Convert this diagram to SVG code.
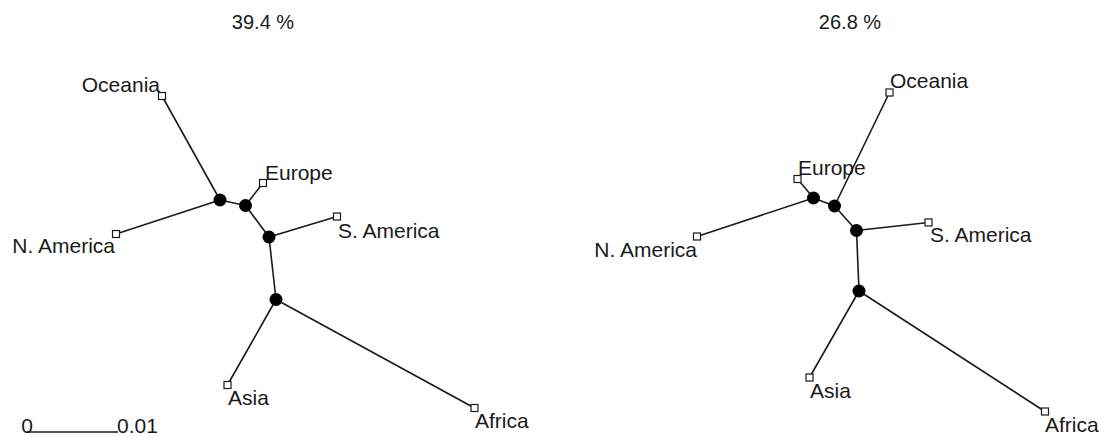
<svg xmlns="http://www.w3.org/2000/svg" width="1101" height="437" viewBox="0 0 1101 437">
<style>
text{font-family:"Liberation Sans",Arial,sans-serif;font-size:21px;fill:#1a1a1a}
text.title{font-size:20px}
.e{stroke:#1a1a1a;stroke-width:1.6;fill:none}
.tip{fill:#fff;stroke:#1a1a1a;stroke-width:1.2}
.int{fill:#000}
</style>
<rect width="1101" height="437" fill="#fff"/>
<text class="title" x="263" y="29" text-anchor="middle">39.4 %</text>
<text class="title" x="850" y="29" text-anchor="middle">26.8 %</text>
<g id="connectors">
<g id="edges-left">
<line class="e" x1="220" y1="200" x2="162" y2="96"/>
<line class="e" x1="220" y1="200" x2="116" y2="234"/>
<line class="e" x1="220" y1="200" x2="245.5" y2="205.5"/>
<line class="e" x1="245.5" y1="205.5" x2="263" y2="183"/>
<line class="e" x1="245.5" y1="205.5" x2="269" y2="237"/>
<line class="e" x1="269" y1="237" x2="337" y2="216.5"/>
<line class="e" x1="269" y1="237" x2="276" y2="299.5"/>
<line class="e" x1="276" y1="299.5" x2="227.5" y2="385"/>
<line class="e" x1="276" y1="299.5" x2="474.5" y2="408"/>
<line class="e" x1="27" y1="432" x2="118" y2="432"/>
</g>
<g id="edges-right">
<line class="e" x1="813.5" y1="198" x2="797.5" y2="179"/>
<line class="e" x1="813.5" y1="198" x2="697" y2="236.5"/>
<line class="e" x1="813.5" y1="198" x2="834.5" y2="206"/>
<line class="e" x1="834.5" y1="206" x2="889.5" y2="92.5"/>
<line class="e" x1="834.5" y1="206" x2="856.5" y2="230.5"/>
<line class="e" x1="856.5" y1="230.5" x2="928.5" y2="222.5"/>
<line class="e" x1="856.5" y1="230.5" x2="859" y2="291"/>
<line class="e" x1="859" y1="291" x2="809.5" y2="377.5"/>
<line class="e" x1="859" y1="291" x2="1045" y2="411.5"/>
</g>
</g>
<g id="left-tree">
<g id="L-oceania"><rect class="tip" x="158.5" y="92.5" width="7" height="7"/><text x="160" y="92" text-anchor="end">Oceania</text></g>
<g id="L-namerica"><rect class="tip" x="112.5" y="230.5" width="7" height="7"/><text x="115" y="253" text-anchor="end">N. America</text></g>
<g id="L-europe"><rect class="tip" x="259.5" y="179.5" width="7" height="7"/><text x="265" y="180">Europe</text></g>
<g id="L-samerica"><rect class="tip" x="333.5" y="213" width="7" height="7"/><text x="338" y="238">S. America</text></g>
<g id="L-asia"><rect class="tip" x="224" y="381.5" width="7" height="7"/><text x="228" y="405">Asia</text></g>
<g id="L-africa"><rect class="tip" x="471" y="404.5" width="7" height="7"/><text x="475" y="428">Africa</text></g>
<g id="L-n1"><circle class="int" cx="220" cy="200" r="6.5"/></g>
<g id="L-n2"><circle class="int" cx="245.5" cy="205.5" r="6.5"/></g>
<g id="L-n3"><circle class="int" cx="269" cy="237" r="6.5"/></g>
<g id="L-n4"><circle class="int" cx="276" cy="299.5" r="6.5"/></g>
<g id="scale"><text x="27" y="433" text-anchor="middle">0</text><text x="117" y="433">0.01</text></g>
</g>
<g id="right-tree">
<g id="R-oceania"><rect class="tip" x="886" y="89" width="7" height="7"/><text x="890" y="88">Oceania</text></g>
<g id="R-europe"><rect class="tip" x="794" y="175.5" width="7" height="7"/><text x="798" y="175">Europe</text></g>
<g id="R-namerica"><rect class="tip" x="693.5" y="233" width="7" height="7"/><text x="697" y="257" text-anchor="end">N. America</text></g>
<g id="R-samerica"><rect class="tip" x="925" y="219" width="7" height="7"/><text x="930" y="242">S. America</text></g>
<g id="R-asia"><rect class="tip" x="806" y="374" width="7" height="7"/><text x="810" y="398">Asia</text></g>
<g id="R-africa"><rect class="tip" x="1041.5" y="408" width="7" height="7"/><text x="1045" y="432">Africa</text></g>
<g id="R-n1"><circle class="int" cx="813.5" cy="198" r="6.5"/></g>
<g id="R-n2"><circle class="int" cx="834.5" cy="206" r="6.5"/></g>
<g id="R-n3"><circle class="int" cx="856.5" cy="230.5" r="6.5"/></g>
<g id="R-n4"><circle class="int" cx="859" cy="291" r="6.5"/></g>
</g>
</svg>
